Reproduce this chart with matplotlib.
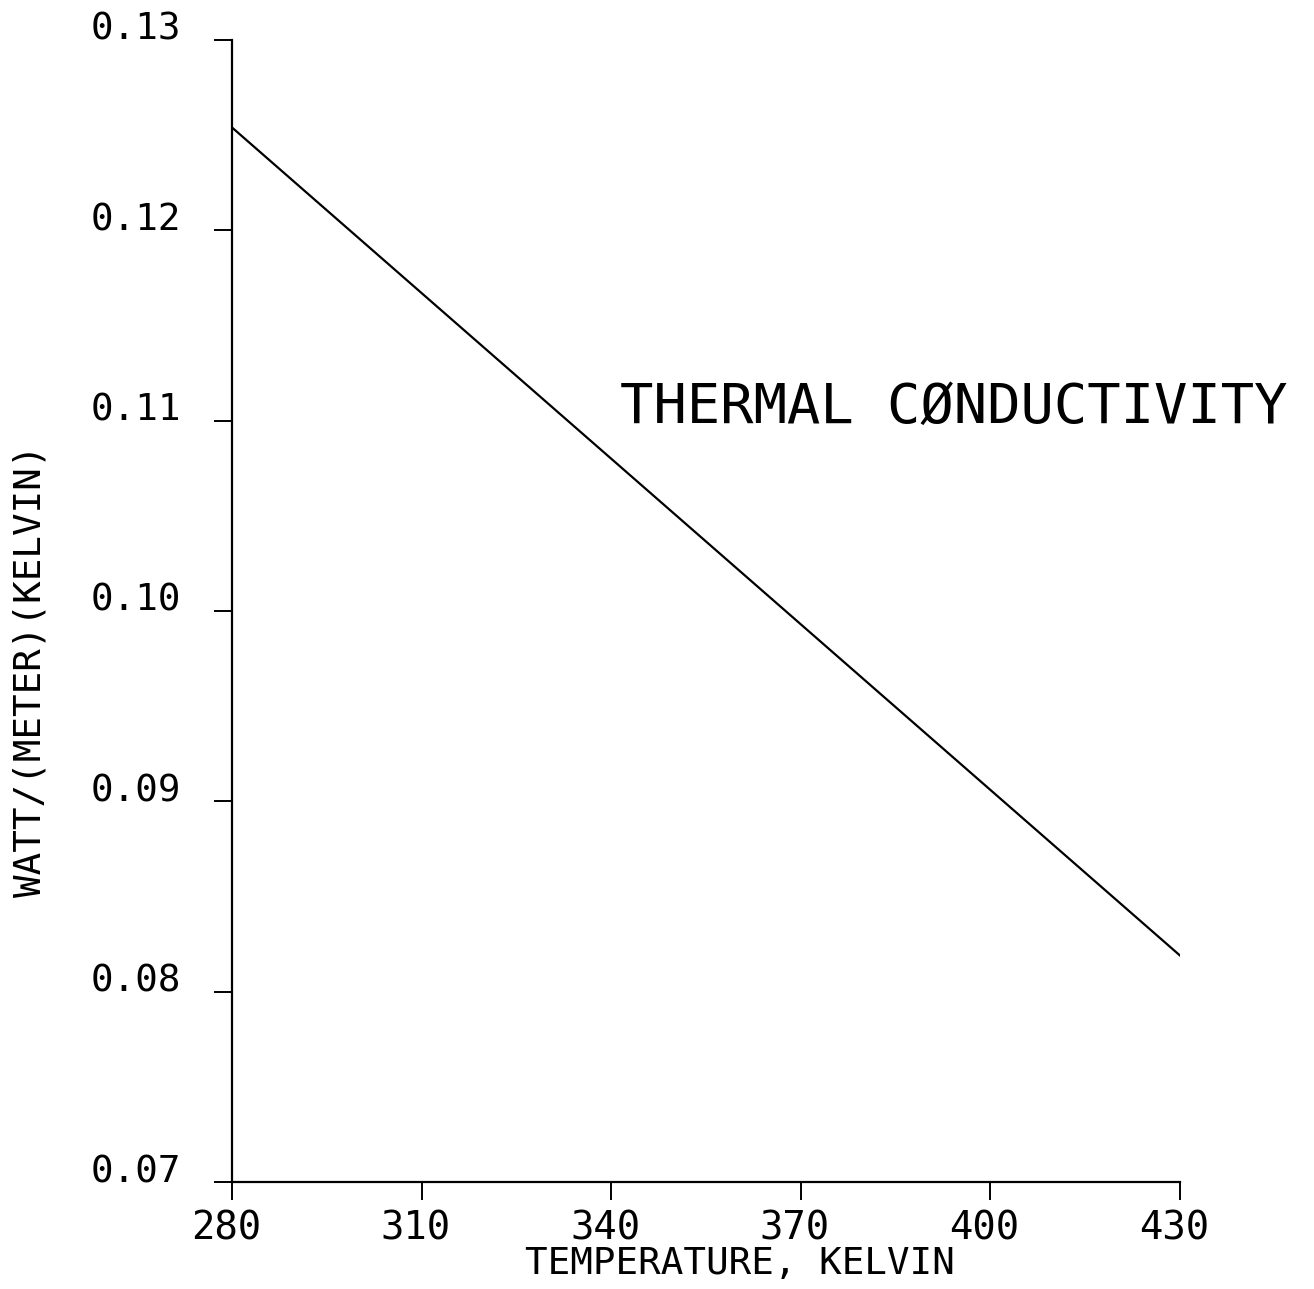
import matplotlib
matplotlib.use('Agg')
import matplotlib.pyplot as plt
from matplotlib.transforms import ScaledTranslation

temperature = [280, 310, 340, 370, 400, 430]
conductivity = [0.1254, 0.1167, 0.1080, 0.0993, 0.0906, 0.0819]
x_ticks = [280, 310, 340, 370, 400, 430]
y_ticks = [0.07, 0.08, 0.09, 0.10, 0.11, 0.12, 0.13]
y_tick_labels = ['0.07', '0.08', '0.09', '0.10', '0.11', '0.12', '0.13']

plt.rcParams['font.family'] = ['DejaVu Sans Mono']

fig = plt.figure(figsize=(13.14, 12.89), dpi=100)
ax = fig.add_axes([0.1766, 0.083, 0.7214, 0.886])

ax.plot(temperature, conductivity, color='black', linewidth=1.6)

ax.set_xlim(280, 430)
ax.set_ylim(0.07, 0.13)
ax.set_xticks(x_ticks)
ax.set_xticklabels([str(t) for t in x_ticks])
ax.set_yticks(y_ticks)
ax.set_yticklabels(y_tick_labels)

for s in ['top', 'right']:
    ax.spines[s].set_visible(False)
for s in ['left', 'bottom']:
    ax.spines[s].set_linewidth(1.6)

ax.tick_params(axis='y', direction='out', length=13, width=1.4, pad=24, labelsize=27)
ax.tick_params(axis='x', direction='out', length=13, width=1.4, pad=7, labelsize=28)
for lab in ax.get_yticklabels():
    lab.set_verticalalignment('baseline')
shift = ScaledTranslation(-6 / 100, 0, fig.dpi_scale_trans)
for lab in ax.get_xticklabels():
    lab.set_transform(lab.get_transform() + shift)

ax.set_xlabel('TEMPERATURE, KELVIN', fontsize=27)
ax.xaxis.set_label_coords(0.536, -0.056)
ax.xaxis.label.set_verticalalignment('top')
ax.set_ylabel('WATT/(METER)(KELVIN)', fontsize=27)
ax.yaxis.set_label_coords(-0.194, 0.448)

ax.text(341.4, 0.1099, 'THERMAL CØNDUCTIVITY', fontsize=40, va='baseline', ha='left')

fig.savefig('out.png', dpi=100)
